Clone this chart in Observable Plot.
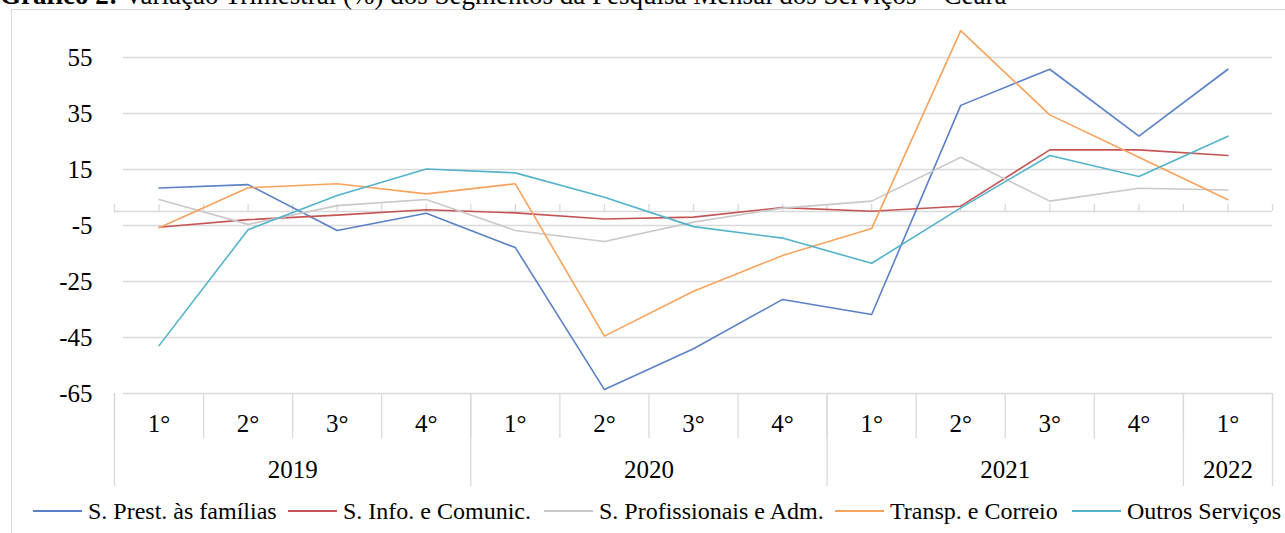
<!DOCTYPE html>
<html>
<head>
<meta charset="utf-8">
<script src="https://cdn.jsdelivr.net/npm/d3@7"></script>
<script src="https://cdn.jsdelivr.net/npm/@observablehq/plot@0.6"></script>
<style>
  html, body { margin: 0; padding: 0; background: #fff; overflow: hidden; }
  #wrap { position: relative; width: 1285px; height: 533px; font-family: "Liberation Serif", "Times New Roman", serif; color: #000; }
  #title { position: absolute; left: 0; top: -18px; font-size: 27px; line-height: 27px; white-space: nowrap; }
  #frame { position: absolute; left: 11px; top: 9px; width: 1290px; height: 540px; border: 1px solid #d9d9d9; box-sizing: border-box; }
  #chart { position: absolute; left: 0; top: 0; }
  #legend { position: absolute; left: 0; top: 499px; width: 1285px; height: 24px; font-size: 24px; line-height: 24px; font-family: "Liberation Serif", serif; }
  .item { position: absolute; top: 0; display: flex; align-items: center; white-space: nowrap; }
  .sw { display: inline-block; width: 49px; height: 2px; margin-right: 6px; }
</style>
</head>
<body>
<div id="wrap">
  <div id="frame"></div>
  <div id="title"><b>Gráfico 2:</b> Variação Trimestral (%) dos Segmentos da Pesquisa Mensal dos Serviços – Ceará</div>
  <div id="chart"></div>
  <div id="legend"></div>
</div>
<script>
// ---- data ----
const quarters = ["1°","2°","3°","4°","1°","2°","3°","4°","1°","2°","3°","4°","1°"];
const quarterYears = ["2019","2019","2019","2019","2020","2020","2020","2020","2021","2021","2021","2021","2022"];
const seriesNames = ["S. Prest. às famílias","S. Info. e Comunic.","S. Profissionais e Adm.","Transp. e Correio","Outros Serviços"];
const seriesColors = ["#5b80c6","#c55555","#c9c9c9","#f8a35c","#52b3cb"];
const prestFamilias   = [8.4, 9.6, -6.8, -0.6, -12.9, -63.6, -49.0, -31.4, -36.8, 37.9, 50.8, 26.9, 50.8];
const infoComunic     = [-5.6, -2.9, -1.3, 0.6, -0.5, -2.7, -2.0, 1.4, 0.1, 1.9, 22.0, 22.0, 20.0];
const profissionais   = [4.3, -4.6, 2.1, 4.3, -6.8, -10.7, -3.8, 1.2, 3.7, 19.4, 3.7, 8.3, 7.7];
const transpCorreio   = [-5.8, 8.5, 9.9, 6.3, 9.9, -44.5, -28.5, -15.7, -6.1, 64.6, 34.5, 19.4, 4.2];
const outrosServicos  = [-47.9, -6.5, 5.7, 15.2, 13.8, 5.1, -5.4, -9.5, -18.5, 1.3, 20.0, 12.5, 26.9];
const yTicks = [-65, -45, -25, -5, 15, 35, 55];
const legendLefts = [33, 288, 544, 835, 1072];

// ---- derived tables ----
const seriesValues = [prestFamilias, infoComunic, profissionais, transpCorreio, outrosServicos];
const data = seriesNames.flatMap((name, s) => seriesValues[s].map((v, i) => ({series: name, i, v})));
const n = quarters.length;
const boundaries = d3.range(n + 1).map(i => i - 0.5);
const halfTicks = d3.range(2 * n + 1).map(k => k / 2 - 0.5);
const yearBoundaries = boundaries.filter((b, k) => k === 0 || k === n || quarterYears[k] !== quarterYears[k - 1]);
const yearLabels = Array.from(d3.group(quarters.map((q, i) => i), i => quarterYears[i]), ([year, idx]) => ({year, x: d3.mean(idx)}));

const FONT = "Liberation Serif";
const chart = Plot.plot({
  width: 1285,
  height: 495,
  marginLeft: 114,
  marginRight: 13,
  marginTop: 29,
  marginBottom: 102,
  x: {domain: [-0.5, n - 0.5], axis: null},
  y: {domain: [-65, 65], axis: null, label: null},
  color: {domain: seriesNames, range: seriesColors},
  style: {fontFamily: FONT, fontSize: "24px", color: "#000", background: "transparent", overflow: "visible"},
  marks: [
    Plot.gridY(yTicks, {stroke: "#d9d9d9", strokeOpacity: 1, strokeWidth: 1.3, insetLeft: 9}),
    Plot.ruleY([0], {stroke: "#d9d9d9", strokeWidth: 1.3}),
    Plot.ruleX(halfTicks, {x: d => d, y1: 0, y2: 0, insetBottom: 7, stroke: "#d9d9d9", strokeWidth: 1.3}),
    Plot.ruleX(boundaries, {x: d => d, y1: -65, y2: -65, insetBottom: -45, stroke: "#d9d9d9", strokeWidth: 1.3}),
    Plot.ruleX(yearBoundaries, {x: d => d, y1: -65, y2: -65, insetBottom: -93, stroke: "#d9d9d9", strokeWidth: 1.3}),
    Plot.axisY(yTicks, {tickSize: 0, tickPadding: 22, tickFormat: d => String(d), label: null, fontSize: 25, fontFamily: FONT, fill: "#000"}),
    Plot.text(quarters, {x: (d, i) => i, y: -65, dy: 30, text: d => d, fontSize: 25, fontFamily: FONT, fill: "#000"}),
    Plot.text(yearLabels, {x: "x", y: -65, dy: 76, text: "year", fontSize: 25, fontFamily: FONT, fill: "#000"}),
    Plot.line(data, {x: "i", y: "v", stroke: "series", z: "series", strokeWidth: 1.6})
  ]
});
document.getElementById("chart").appendChild(chart);

// legend
const legend = document.getElementById("legend");
seriesNames.forEach((name, s) => {
  const item = document.createElement("div");
  item.className = "item";
  item.style.left = legendLefts[s] + "px";
  const sw = document.createElement("span");
  sw.className = "sw";
  sw.style.background = seriesColors[s];
  const tx = document.createElement("span");
  tx.textContent = name;
  item.appendChild(sw);
  item.appendChild(tx);
  legend.appendChild(item);
});
</script>
</body>
</html>
